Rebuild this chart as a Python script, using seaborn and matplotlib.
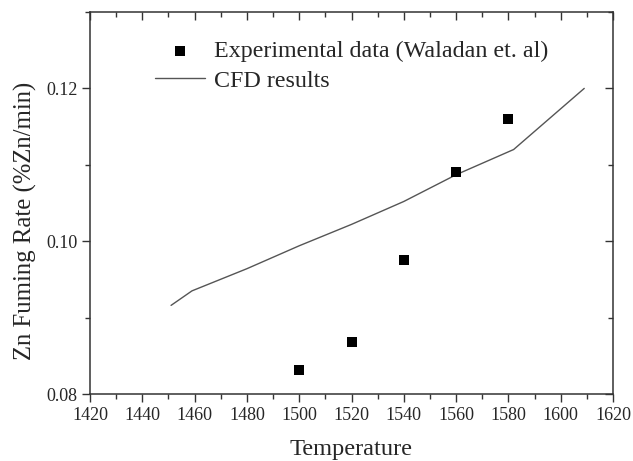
import matplotlib
matplotlib.use("Agg")
import matplotlib.pyplot as plt
import seaborn as sns
import pandas as pd
from matplotlib.ticker import MultipleLocator

# Data
exp_temp = [1500, 1520, 1540, 1560, 1580]
exp_rate = [0.0832, 0.0868, 0.0975, 0.1090, 0.1160]
cfd_temp = [1451, 1459, 1480, 1500, 1520, 1540, 1560, 1582, 1609]
cfd_rate = [0.0916, 0.0935, 0.0964, 0.0994, 0.1022, 0.1052, 0.1087, 0.1120, 0.1200]
x_label = "Temperature"
y_label = "Zn Fuming Rate (%Zn/min)"
exp_label = "Experimental data (Waladan et. al)"
cfd_label = "CFD results"

sns.set_style("ticks")
plt.rcParams['font.family'] = ['Liberation Serif', 'DejaVu Serif']

fig = plt.figure(figsize=(6.33, 4.61), dpi=100)
ax = fig.add_axes([90/633, 1-394/461, (613-90)/633, (394-12)/461])

df_exp = pd.DataFrame({"T": exp_temp, "R": exp_rate})
df_cfd = pd.DataFrame({"T": cfd_temp, "R": cfd_rate})

sns.lineplot(data=df_cfd, x="T", y="R", ax=ax, color="#555555", linewidth=1.0,
             label=cfd_label, sort=False)
sns.scatterplot(data=df_exp, x="T", y="R", ax=ax, marker="s", color="black",
                s=45, edgecolor="black", linewidth=0, label=exp_label, zorder=3)

ax.set_xlim(1420, 1620)
ax.set_ylim(0.08, 0.13)
ax.xaxis.set_major_locator(MultipleLocator(20))
ax.xaxis.set_minor_locator(MultipleLocator(10))
ax.yaxis.set_major_locator(MultipleLocator(0.02))
ax.yaxis.set_minor_locator(MultipleLocator(0.01))
ax.yaxis.set_major_formatter(matplotlib.ticker.FormatStrFormatter('%.2f'))

for sp in ax.spines.values():
    sp.set_visible(True)
    sp.set_linewidth(1.1)
    sp.set_color("#333333")

ax.tick_params(which='both', direction='out', bottom=True, left=True, top=False, right=False,
               labelsize=13, color="#333333", width=1.0, pad=3)
ax.tick_params(which='major', length=6)
ax.tick_params(which='minor', length=3.5)

# mirrored inward ticks on top/right
ax_top = ax.secondary_xaxis('top')
ax_top.xaxis.set_major_locator(MultipleLocator(20))
ax_top.xaxis.set_minor_locator(MultipleLocator(10))
ax_top.tick_params(which='both', direction='in', labeltop=False, color="#333333", width=1.0)
ax_top.tick_params(which='major', length=6)
ax_top.tick_params(which='minor', length=3.5)
ax_top.spines['top'].set_visible(False)
ax_right = ax.secondary_yaxis('right')
ax_right.yaxis.set_major_locator(MultipleLocator(0.02))
ax_right.yaxis.set_minor_locator(MultipleLocator(0.01))
ax_right.tick_params(which='both', direction='in', labelright=False, color="#333333", width=1.0)
ax_right.tick_params(which='major', length=6)
ax_right.tick_params(which='minor', length=3.5)
ax_right.spines['right'].set_visible(False)

ax.set_xlabel(x_label, fontsize=17.6, labelpad=11)
ax.set_ylabel(y_label, fontsize=17.8)
ax.yaxis.set_label_coords(-0.101, 0.453)

handles, labels = ax.get_legend_handles_labels()
order = [labels.index(exp_label), labels.index(cfd_label)]
ax.legend([handles[i] for i in order], [labels[i] for i in order],
          loc='upper left', bbox_to_anchor=(155/633, 1-40/461), bbox_transform=fig.transFigure,
          frameon=False, fontsize=17.3, handlelength=2.08, handletextpad=0.37,
          borderpad=0, borderaxespad=0, labelspacing=0.33, markerscale=1.0)

fig.savefig("out.png", dpi=100)
